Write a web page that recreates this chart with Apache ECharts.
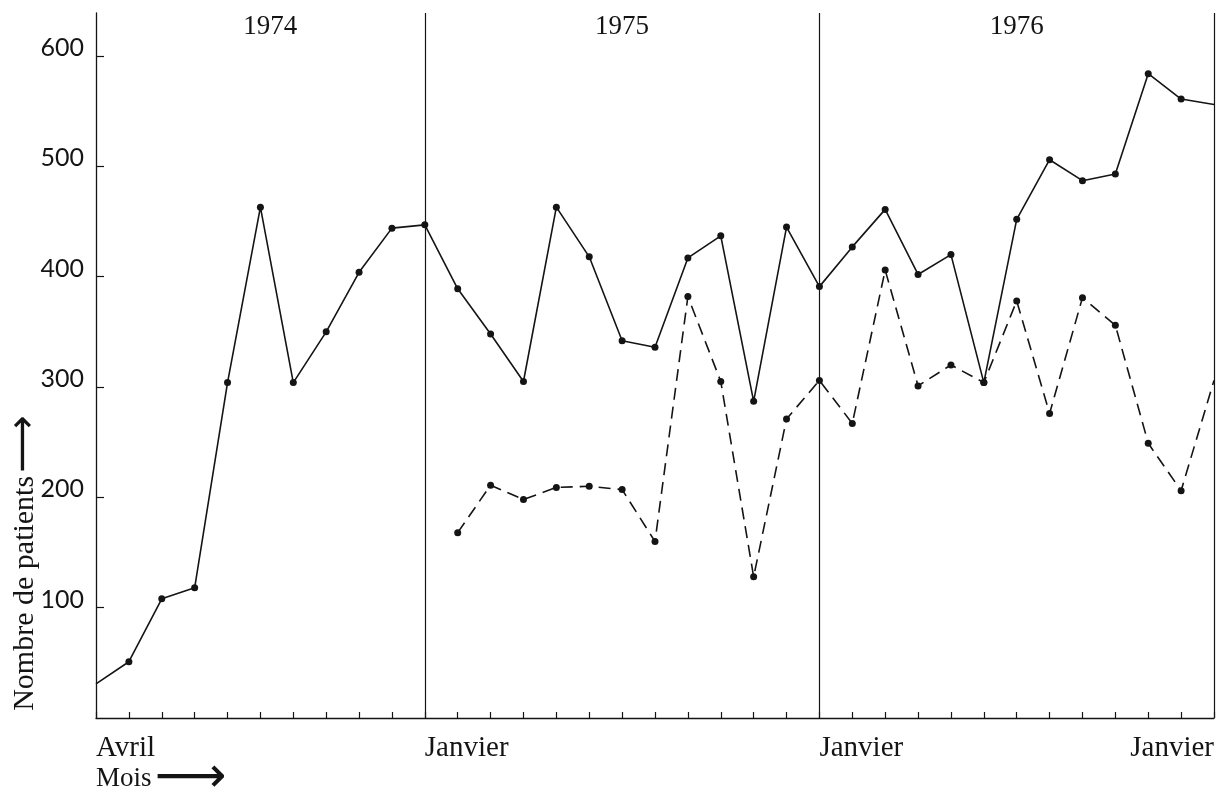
<!DOCTYPE html>
<html>
<head>
<meta charset="utf-8">
<script src="https://cdn.jsdelivr.net/npm/echarts@6/dist/echarts.min.js"></script>
<style>
html,body{margin:0;padding:0;background:#fff;}
#chart{width:1224px;height:798px;}
</style>
</head>
<body>
<div id="chart"></div>
<script>
// ---- data ----
const monthLabelPos = [0, 10, 22, 34];
const monthLabels = ['Avril', 'Janvier', 'Janvier', 'Janvier'];
const yearPos = [5.3, 16, 28];
const yearLabels = ['1974', '1975', '1976'];
const yearBoundaries = [10, 22, 34];
const yTicks = [100, 200, 300, 400, 500, 600];

const solidSeries = [31, 51, 108, 118, 304, 463, 304, 350, 404, 444, 447,
  389, 348, 305, 463, 418, 342, 336, 417, 437, 287, 445, 391,
  427, 461, 402, 420, 304, 452, 506, 487, 493, 584, 561, 556];
const dashedSeries = [null, null, null, null, null, null, null, null, null, null, null,
  168, 211, 198, 209, 210, 207, 160, 382, 305, 128, 271, 306,
  267, 406, 301, 320, 304, 378, 276, 381, 356, 249, 206, 306];

// ---- chart ----
const ink = '#141414';
const serif = 'Liberation Serif';
function toPoints(arr) {
  const pts = [];
  const last = arr.length - 1;
  arr.forEach((v, i) => {
    if (v === null) return;
    pts.push({ value: [i, v], symbol: (i === 0 || i === last) ? 'none' : 'circle' });
  });
  return pts;
}
const chart = echarts.init(document.getElementById('chart'), null, { renderer: 'canvas' });
const option = {
  backgroundColor: '#ffffff',
  animation: false,
  grid: { left: 96, right: 10, top: 13, bottom: 80 },
  xAxis: [{
    type: 'value', min: 0, max: 34, interval: 1,
    axisLine: { show: true, lineStyle: { color: ink, width: 1.3 } },
    axisTick: { show: true, inside: true, length: 6, lineStyle: { color: ink, width: 1.2 } },
    splitLine: { show: false },
    axisLabel: {
      customValues: monthLabelPos,
      formatter: function (v) { const k = monthLabelPos.indexOf(v); return k >= 0 ? monthLabels[k] : ''; },
      align: 'left', alignMaxLabel: 'right', margin: 16,
      color: ink, fontFamily: serif, fontSize: 29
    }
  }, {
    type: 'value', position: 'top', min: 0, max: 34,
    axisLine: { show: false }, axisTick: { show: false }, splitLine: { show: false },
    axisLabel: {
      customValues: yearPos, inside: true, margin: 0,
      formatter: function (v) { const k = yearPos.indexOf(v); return k >= 0 ? yearLabels[k] : ''; },
      color: ink, fontFamily: serif, fontSize: 27
    }
  }],
  yAxis: {
    type: 'value', min: 0, max: 639, interval: 100,
    axisLine: { show: true, lineStyle: { color: ink, width: 1.3 } },
    axisTick: { show: true, inside: true, length: 8, lineStyle: { color: ink, width: 1.2 }, customValues: yTicks },
    splitLine: { show: false },
    axisLabel: {
      customValues: yTicks,
      margin: 12, color: ink, fontFamily: 'Lato', fontSize: 25,
      verticalAlign: 'bottom', lineHeight: 16
    }
  },
  graphic: [{
    type: 'text', x: 25, y: 563, rotation: Math.PI / 2,
    style: {
      text: '{a|Nombre de patients} {b|⟶}',
      align: 'center', verticalAlign: 'middle',
      rich: {
        a: { fontFamily: serif, fontSize: 30, fill: ink },
        b: { fontFamily: 'DejaVu Sans', fontSize: 40, fill: ink }
      }
    }
  }, {
    type: 'text', x: 96, y: 779,
    style: {
      text: '{a|Mois} {b|⟶}',
      align: 'left', verticalAlign: 'middle',
      rich: {
        a: { fontFamily: serif, fontSize: 27, fill: ink },
        b: { fontFamily: 'DejaVu Sans', fontSize: 50, fill: ink }
      }
    }
  }],
  series: [{
    type: 'line', name: 'total',
    data: toPoints(solidSeries),
    symbol: 'circle', symbolSize: 7,
    lineStyle: { color: ink, width: 1.6 },
    itemStyle: { color: ink },
    markLine: {
      silent: true, symbol: 'none', animation: false,
      label: { show: false },
      lineStyle: { color: ink, width: 1.2, type: 'solid' },
      data: yearBoundaries.map(x => ({ xAxis: x }))
    }
  }, {
    type: 'line', name: 'dashed',
    data: toPoints(dashedSeries),
    symbol: 'circle', symbolSize: 7,
    lineStyle: { color: ink, width: 1.6, type: [12, 7] },
    itemStyle: { color: ink }
  }]
};
chart.setOption(option);
</script>
</body>
</html>
